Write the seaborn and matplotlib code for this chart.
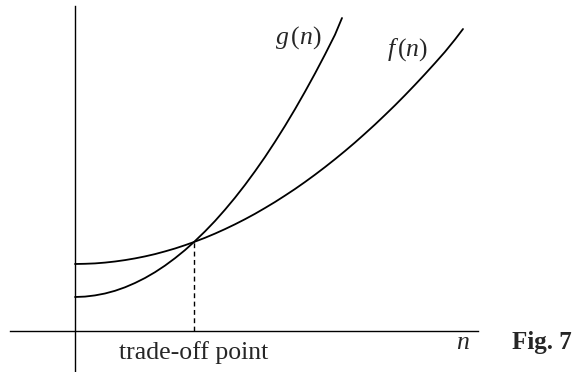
import matplotlib
matplotlib.use("Agg")
import matplotlib.pyplot as plt
import seaborn as sns
import pandas as pd

sns.set_style("white")
plt.rcParams["font.family"] = ["Liberation Serif", "DejaVu Serif"]
plt.rcParams["mathtext.fontset"] = "custom"
plt.rcParams["mathtext.rm"] = "Liberation Serif"
plt.rcParams["mathtext.it"] = "Liberation Serif:italic"

# values (n, cost)
n_f = [0, 10, 20, 30, 40, 50, 60, 70, 80, 90, 100, 110, 119, 130, 140, 150, 160, 170, 180, 190,
       200, 210, 220, 230, 240, 250, 260, 270, 280, 290, 300, 310, 320, 330, 340, 350, 360, 370, 380, 388]
f_vals = [67, 67.2, 67.6, 68.4, 69.5, 70.9, 72.6, 74.6, 76.9, 79.6, 82.5, 85.8, 89, 93.2, 97.4, 101.9,
          106.7, 111.8, 117.2, 123, 129, 135.4, 142, 149, 156.3, 163.9, 171.8, 180, 188.5, 197.4,
          206.5, 216, 225.7, 235.8, 246.2, 256.9, 267.9, 279.2, 291.5, 302]
n_g = [0, 10, 20, 30, 40, 50, 60, 70, 80, 90, 100, 110, 119, 130, 140, 150, 160, 170, 180, 190,
       200, 210, 220, 230, 240, 250, 260, 267]
g_vals = [34, 34.4, 35.6, 37.5, 40.2, 43.7, 48, 53, 58.8, 65.4, 72.8, 80.9, 89, 99.6, 110, 121.3,
          133.3, 146.1, 159.7, 174, 189.2, 205.1, 221.8, 239.3, 257.5, 276.5, 296.3, 313]
tradeoff_n = 119
tradeoff_val = 89

labels = {"g": "$g\\,(n)$", "f": "$f\\,(n)$", "x": "$n$", "point": "trade-off point", "fig": "Fig. 7"}

df = pd.concat([
    pd.DataFrame({"n": n_f, "value": f_vals, "curve": "f"}),
    pd.DataFrame({"n": n_g, "value": g_vals, "curve": "g"}),
])

fig = plt.figure(figsize=(5.75, 3.72), dpi=100)
ax = fig.add_axes([0, 0, 1, 1])
sns.lineplot(data=df, x="n", y="value", hue="curve", palette={"f": "black", "g": "black"},
             estimator=None, sort=True, legend=False, linewidth=1.3, ax=ax)

ax.plot([tradeoff_n, tradeoff_n], [0, tradeoff_val], color="black", linewidth=1.0,
        linestyle=(0, (3.5, 2.5)))

ax.set_xlim(-75, 500)
ax.set_ylim(-41, 331)
for s in ["top", "right"]:
    ax.spines[s].set_visible(False)
ax.spines["left"].set_position(("data", 0))
ax.spines["bottom"].set_position(("data", 0))
ax.spines["left"].set_bounds(-41, 325)
ax.spines["bottom"].set_bounds(-65, 403)
for s in ["left", "bottom"]:
    ax.spines[s].set_color("black")
    ax.spines[s].set_linewidth(1.0)
ax.set_xticks([])
ax.set_yticks([])
ax.set_xlabel("")
ax.set_ylabel("")
ax.patch.set_alpha(0)

ax.text(223, 293, labels["g"], fontsize=18.5, ha="center", va="center")
ax.text(333, 281, labels["f"], fontsize=18.5, ha="center", va="center")
ax.text(388, -12, labels["x"], fontsize=18.5, ha="center", va="center")
ax.text(tradeoff_n, -22, labels["point"], fontsize=18.5, ha="center", va="center")
ax.text(467, -12, labels["fig"], fontsize=18, fontweight="bold", ha="center", va="center")

fig.savefig("out.png", dpi=100, facecolor="white")
